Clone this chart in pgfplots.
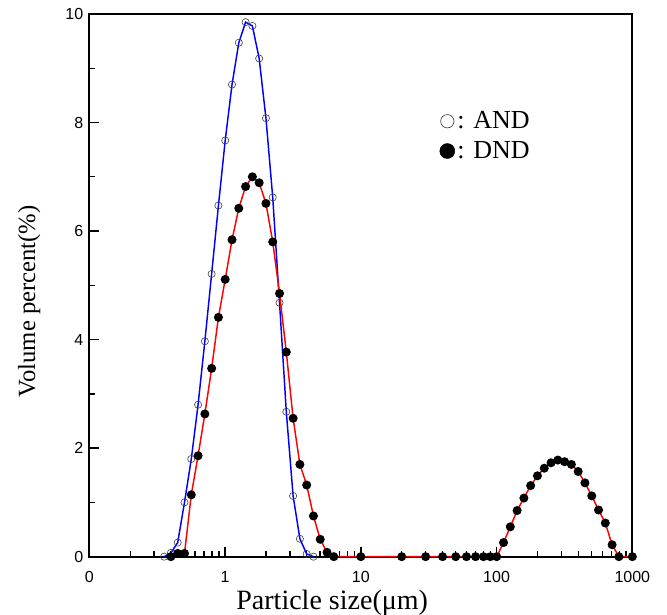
\documentclass[border=0pt]{standalone}
\usepackage{pgfplots}
\pgfplotsset{compat=1.18}
\usepackage{fontspec}
\setmainfont{Liberation Serif}
\newfontfamily\ticksf{Liberation Sans}

% particle size distributions (size in um, volume %)
\pgfplotstableread{
x y
0.3557 0
0.3991 0.07
0.4477 0.26
0.5024 1.00
0.5637 1.80
0.6325 2.80
0.7096 3.97
0.7962 5.21
0.8934 6.47
1.002 7.67
1.125 8.70
1.262 9.47
1.416 9.85
1.589 9.78
1.783 9.18
2.000 8.08
2.244 6.62
2.518 4.68
2.825 2.67
3.170 1.12
3.557 0.33
3.991 0.05
4.477 0
}\andtab

\pgfplotstableread{
x y
0.3991 0
0.4477 0.06
0.5024 0.06
0.5637 1.14
0.6325 1.86
0.7096 2.63
0.7962 3.47
0.8934 4.41
1.002 5.11
1.125 5.84
1.262 6.42
1.416 6.82
1.589 7.00
1.783 6.89
2.000 6.51
2.244 5.80
2.518 4.85
2.825 3.77
3.170 2.55
3.557 1.70
3.991 1.32
4.477 0.75
5.024 0.32
5.637 0.08
6.325 0
10 0
20 0
30 0
40 0
50 0
60 0
70 0
80 0
90 0
100.2 0
112.5 0.26
126.2 0.55
141.6 0.85
158.9 1.08
178.3 1.31
200.0 1.49
224.4 1.63
251.8 1.73
282.5 1.78
317.0 1.75
355.7 1.70
399.1 1.57
447.7 1.36
502.4 1.12
563.7 0.86
632.5 0.62
709.6 0.22
796.2 0
1000 0
}\dndtab

\begin{document}
\begin{tikzpicture}
\begin{axis}[
  scale only axis, width=407.25pt, height=407pt,
  xmode=log, xmin=0.1, xmax=1000, ymin=0, ymax=10,
  xtick={0.1,1,10,100,1000}, xticklabels={0,1,10,100,1000},
  minor xtick={0.2,0.3,0.4,0.5,0.6,0.7,0.8,0.9,2,3,4,5,6,7,8,9,20,30,40,50,60,70,80,90,200,300,400,500,600,700,800,900},
  ytick={0,2,4,6,8,10}, minor ytick={1,3,5,7,9},
  tick pos=left, tick align=inside,
  major tick length=7.5pt, minor tick length=4.5pt,
  every tick/.style={black, line width=1pt},
  axis line style={line width=1.4pt},
  /pgf/number format/assume math mode=true,
  tick label style={font=\ticksf\fontsize{12}{14}\selectfont},
  xticklabel style={yshift=-7.5pt},
  yticklabel style={xshift=-1pt},
  xlabel={Particle size(μm)}, ylabel={Volume percent(\%)},
  xlabel style={font=\fontsize{21}{24}\selectfont, xshift=-21.5pt, yshift=1.5pt},
  ylabel style={font=\fontsize{18.5}{22}\selectfont, xshift=-12pt, yshift=12pt},
  clip mode=individual,
  legend style={draw=none, fill=none, at={(0.645,0.775)}, anchor=west,
    font=\fontsize{19.5}{22}\selectfont, row sep=4pt, inner sep=0pt},
  legend cell align=left,
  legend image code/.code={\draw[#1] plot coordinates {(0.2cm,0cm)};},
]
\addplot[blue, line width=1.1pt, mark=o, mark size=2.7pt,
  mark options={draw=black!75, line width=0.45pt}, forget plot] table {\andtab};
\addplot[red, line width=1.1pt, mark=*, mark size=2.8pt,
  mark options={fill=black, draw=black}, forget plot] table {\dndtab};
\addlegendimage{only marks, mark=o, mark size=5pt, mark options={draw=black!75, line width=0.5pt}}
\addlegendentry{: AND}
\addlegendimage{only marks, mark=*, mark size=5.6pt, mark options={fill=black, draw=black}}
\addlegendentry{: DND}
\end{axis}
\pgfresetboundingbox
\path[use as bounding box] ([xshift=-67pt,yshift=-43pt]current axis.south west) rectangle ([xshift=26pt,yshift=10.5pt]current axis.north east);
\end{tikzpicture}
\end{document}
